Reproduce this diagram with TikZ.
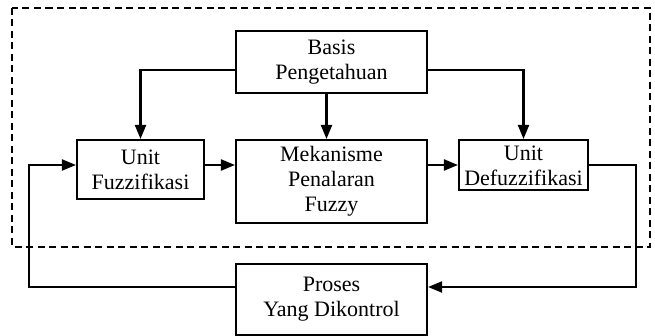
\documentclass[tikz,border=0pt]{standalone}
\usepackage{fontspec}
\setmainfont{Liberation Serif}
\usetikzlibrary{arrows.meta}
\begin{document}
\begin{tikzpicture}[x=1pt,y=-1pt,
  block/.style={draw=black, line width=2.1pt, fill=white, align=center, inner sep=0pt,
    font=\fontsize{22pt}{25pt}\selectfont},
  flow/.style={draw=black, line width=2.1pt,
    -{Triangle[length=14pt,width=11pt]}},
  groupbox/.style={draw=black, line width=2pt, dash pattern=on 7pt off 4.5pt}]
  \useasboundingbox (0,0) rectangle (655,336);

  % controller boundary
  \draw[groupbox] (12,8) rectangle (650,247);

  % blocks
  \node[block, minimum width=191pt, minimum height=62pt] (basis) at (331.5,62) {Basis\\Pengetahuan};
  \node[block, minimum width=127pt, minimum height=59pt] (fuzz) at (140.5,169.5) {Unit\\Fuzzifikasi};
  \node[block, minimum width=191pt, minimum height=83pt] (mek) at (331.5,181.5) {Mekanisme\\Penalaran\\Fuzzy};
  \node[block, minimum width=129pt, minimum height=50pt, text height=42pt] (defuzz) at (523.5,165) {Unit\\Defuzzifikasi};
  \node[block, minimum width=191pt, minimum height=71pt] (proses) at (331.5,299.5) {Proses\\Yang Dikontrol};

  % routing levels
  \coordinate (row) at (0,165);
  \coordinate (kb) at (0,70);
  \coordinate (rt) at (636,287);
  \coordinate (lt) at (29,287);

  % knowledge base feeds
  \draw[flow] (basis.west |- kb) -| (fuzz.north);
  \draw[flow] (basis.east |- kb) -| (defuzz.north);
  \draw[flow] ([xshift=-5pt]basis.south) -- ([xshift=-5pt]mek.north);

  % main chain
  \draw[flow] (fuzz.east |- row) -- (mek.west |- row);
  \draw[flow] (mek.east |- row) -- (defuzz.west |- row);

  % feedback loop through the plant
  \draw[flow] (defuzz.east |- row) -| (rt) -- (proses.east |- rt);
  \draw[flow] (proses.west |- lt) -- (lt) |- (fuzz.west |- row);
\end{tikzpicture}
\end{document}
